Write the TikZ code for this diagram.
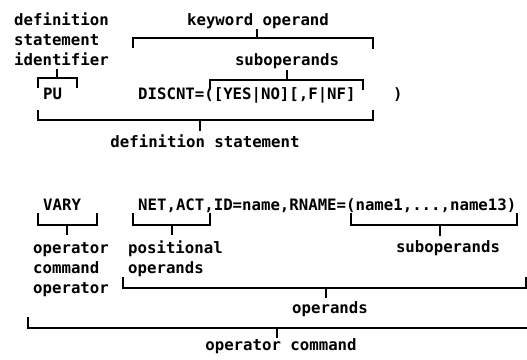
\documentclass[tikz,border=0pt]{standalone}
\usepackage{fontspec}
\newfontfamily\monob{DejaVu Sans Mono}
\begin{document}
\begin{tikzpicture}[x=1pt,y=-1pt,
  lbl/.style={inner sep=0pt, font=\monob\bfseries\fontsize{15.7}{20}\selectfont},
  brk/.style={line width=1.6pt, line join=miter}]
\useasboundingbox (0,0) rectangle (527,359);
% ---- upper example ----
\node[lbl,anchor=base west] (d1) at (14,25) {definition};
\node[lbl,anchor=base west] (d2) at (14,45) {statement};
\node[lbl,anchor=base west] (d3) at (14,65) {identifier};
\node[lbl,anchor=base] (kw) at (258,25) {keyword operand};
\node[lbl,anchor=base] (sub1) at (287,65) {suboperands};
\node[lbl,anchor=base west] (pu) at (43,99) {PU};
\node[lbl,anchor=base west] (disc) at (138,99) {DISCNT=([YES|NO][,F|NF]};
\node[lbl,anchor=base west] (close) at (393,99) {)};
\node[lbl,anchor=base] (defst) at (205,147) {definition statement};
% brackets
\draw[brk] (38,88) -- (38,78) -- (77,78) -- (77,88);
\draw[brk] (57,78) -- (57,69);
\draw[brk] (133,48) -- (133,38) -- (373,38) -- (373,49);
\draw[brk] (257,38) -- (257,29);
\draw[brk] (210,90) -- (210,80) -- (363,80) -- (363,90);
\draw[brk] (287,80) -- (287,70);
\draw[brk] (38,110) -- (38,120) -- (373,120) -- (373,110);
\draw[brk] (200,120) -- (200,131);
% ---- lower example ----
\node[lbl,anchor=base west] (vary) at (43,210) {VARY};
\node[lbl,anchor=base west] (net) at (138,210) {NET,ACT,ID=name,RNAME=(name1,...,name13)};
\node[lbl,anchor=base west] (o1) at (33,253) {operator};
\node[lbl,anchor=base west] (o2) at (33,273) {command};
\node[lbl,anchor=base west] (o3) at (33,293) {operator};
\node[lbl,anchor=base west] (p1) at (128,253) {positional};
\node[lbl,anchor=base west] (p2) at (128,273) {operands};
\node[lbl,anchor=base] (sub2) at (448,252) {suboperands};
\node[lbl,anchor=base] (ops) at (330,313) {operands};
\node[lbl,anchor=base] (opc) at (281,350) {operator command};
% brackets
\draw[brk] (38,213) -- (38,225) -- (97,225) -- (97,213);
\draw[brk] (67,225) -- (67,235);
\draw[brk] (133,213) -- (133,225) -- (210,225) -- (210,213);
\draw[brk] (172,225) -- (172,235);
\draw[brk] (351,213) -- (351,225) -- (517,225) -- (517,213);
\draw[brk] (440,225) -- (440,236);
\draw[brk] (123,277) -- (123,288) -- (526,288) -- (526,277);
\draw[brk] (326,288) -- (326,298);
\draw[brk] (28,317) -- (28,328) -- (527,328);
\draw[brk] (277,328) -- (277,338);
\end{tikzpicture}
\end{document}
